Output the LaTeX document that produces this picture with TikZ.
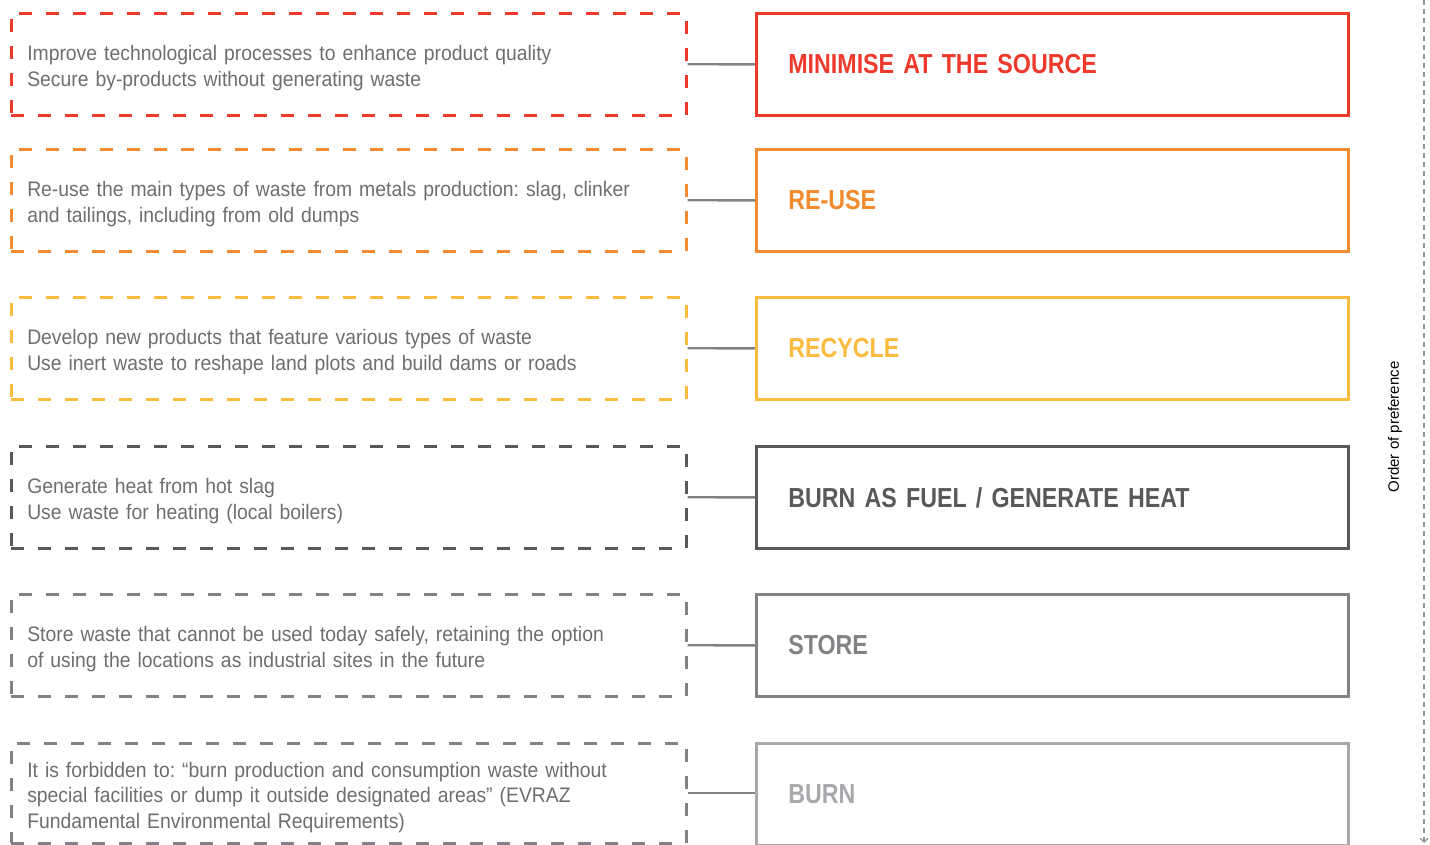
\documentclass[tikz,border=0pt]{standalone}
\usepackage{fontspec}
\setmainfont{Liberation Sans}
\newfontfamily\titlefont[FakeStretch=0.845]{Liberation Sans}
\newfontfamily\descfont[FakeStretch=0.922]{Liberation Sans}
\usetikzlibrary{arrows.meta}
\frenchspacing
\definecolor{cred}{RGB}{238,58,44}
\definecolor{corange}{RGB}{242,138,46}
\definecolor{cyellow}{RGB}{251,187,63}
\definecolor{cdark}{RGB}{88,89,91}
\definecolor{cmid}{RGB}{128,130,133}
\definecolor{clight}{RGB}{167,169,172}
\definecolor{cdesc}{RGB}{109,110,113}
\definecolor{cline}{RGB}{150,150,150}
\tikzset{
  leftbox/.style={draw=#1, line width=2.5pt, dash pattern=on 13pt off 14pt,
    minimum width=675pt, minimum height=102pt, text width=643pt,
    inner xsep=16pt, align=left, anchor=north west, text=cdesc,
    font=\descfont\fontsize{21}{25.5}\selectfont\frenchspacing,
    execute at begin node={\rule{0pt}{23pt}}},
  rightbox/.style={draw=#1, line width=2.7pt,
    minimum width=592pt, minimum height=102pt, text width=528pt,
    inner xsep=32pt, align=left, anchor=north west, text=#1,
    font=\titlefont\bfseries\fontsize{27.5}{30}\selectfont},
  link/.style={draw=cmid, line width=2.4pt},
}
\begin{document}
\begin{tikzpicture}[x=1pt,y=-1pt]
\useasboundingbox (0,0) rectangle (1430,844);
\node[leftbox=cred] (l1) at (10,12) {Improve technological processes to enhance product quality\\Secure by-products without generating waste};
\node[rightbox=cred] (r1) at (755,12) {MINIMISE AT THE SOURCE};
\node[leftbox=corange] (l2) at (10,148) {Re-use the main types of waste from metals production: slag, clinker\\and tailings, including from old dumps};
\node[rightbox=corange] (r2) at (755,148) {RE-USE};
\node[leftbox=cyellow] (l3) at (10,296) {Develop new products that feature various types of waste\\Use inert waste to reshape land plots and build dams or roads};
\node[rightbox=cyellow] (r3) at (755,296) {RECYCLE};
\node[leftbox=cdark] (l4) at (10,445) {Generate heat from hot slag\\Use waste for heating (local boilers)};
\node[rightbox=cdark] (r4) at (755,445) {BURN AS FUEL / GENERATE HEAT};
\node[leftbox=cmid] (l5) at (10,593) {Store waste that cannot be used today safely, retaining the option\\of using the locations as industrial sites in the future};
\node[rightbox=cmid] (r5) at (755,593) {STORE};
\node[leftbox=cmid, minimum height=100pt] (l6) at (10,742) {It is forbidden to: “burn production and consumption waste without\\special facilities or dump it outside designated areas” (EVRAZ\\Fundamental Environmental Requirements)};
\node[rightbox=clight, minimum height=102pt] (r6) at (755,742) {BURN};
\draw[link] (l1.east) -- (r1.west);
\draw[link] (l2.east) -- (r2.west);
\draw[link] (l3.east) -- (r3.west);
\draw[link] (l4.east) -- (r4.west);
\draw[link] (l5.east) -- (r5.west);
\draw[link] (l6.east) -- (l6.east -| r6.west);
\coordinate (ptop) at (1424,0);
\coordinate (pbot) at (1424,843);
\draw[draw=cline, line width=1.4pt, dash pattern=on 5pt off 4pt, -{Straight Barb[length=4pt,width=8pt]}] (ptop) -- (pbot);
\node[rotate=90, font=\fontsize{15}{18}\selectfont, text=black] (pref) at (1395,427) {Order of preference};
\end{tikzpicture}
\end{document}
